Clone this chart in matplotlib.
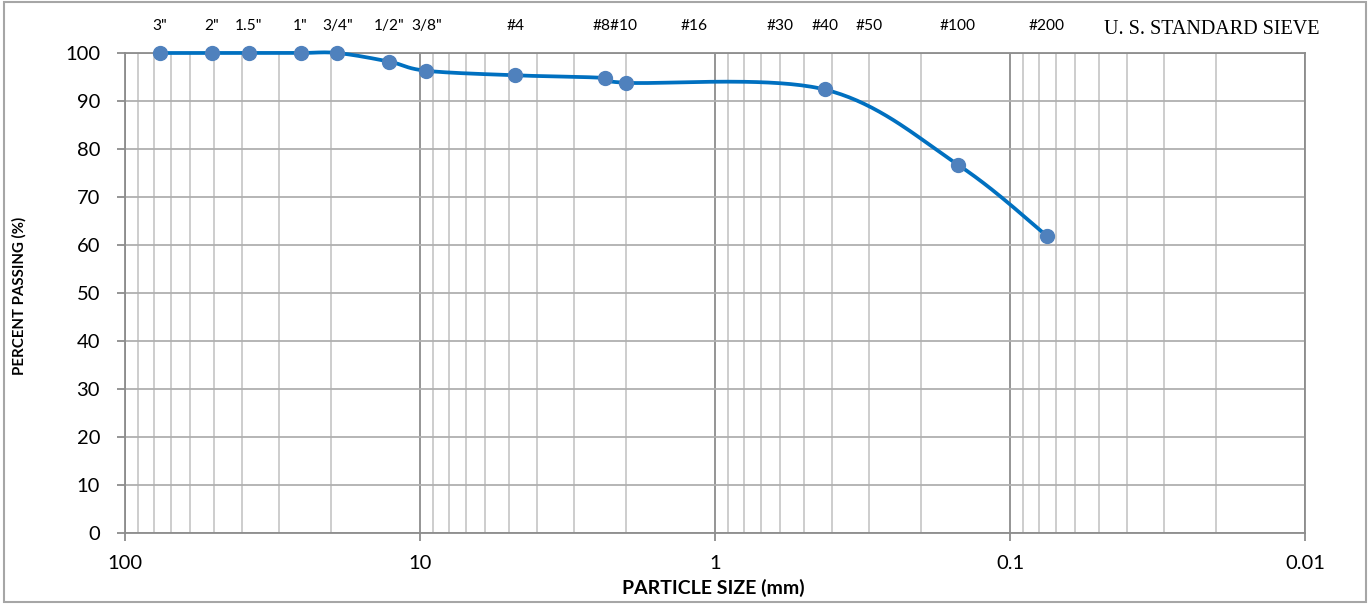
import numpy as np
import matplotlib.pyplot as plt
from matplotlib.ticker import LogLocator, NullFormatter, FixedLocator, FixedFormatter
from matplotlib.transforms import blended_transform_factory
from matplotlib.patches import Rectangle

# ---------------- data
SIEVE_LABELS = ['3"', '2"', '1.5"', '1"', '3/4"', '1/2"', '3/8"', '#4', '#8#10', '#16',
                '#30', '#40', '#50', '#100', '#200']
SIEVE_POS = [76.2, 50.8, 38.1, 25.4, 19.05, 12.7, 9.525, 4.75, 2.18, 1.18,
             0.6, 0.425, 0.3, 0.15, 0.075]

# sieves used in the test (mm) and percent passing
TEST_SIZES = [76.2, 50.8, 38.1, 25.4, 19.05, 12.7, 9.525, 4.75, 2.36, 2.0, 0.425, 0.15, 0.075]
PERCENT_PASSING = [100, 100, 100, 100, 100, 98.2, 96.3, 95.35, 94.8, 93.8, 92.4, 76.7, 61.9]

X_TICKS = [100, 10, 1, 0.1, 0.01]
X_TICK_LABELS = ["100", "10", "1", "0.1", "0.01"]

FONT = ["Lato", "DejaVu Sans"]
LINE_COLOR = "#0070C0"
MARKER_COLOR = "#4F81BD"


def excel_smooth(ax, xs, ys, n=40):
    """Courbe lissée façon Excel (Catmull-Rom -> Bezier) calculée en pixels."""
    pts = ax.transData.transform(np.column_stack([xs, ys]))
    P = np.vstack([pts[0], pts, pts[-1]])
    t = np.linspace(0, 1, n)[:, None]
    segs = []
    for i in range(1, len(P) - 2):
        p0, p1, p2, p3 = P[i - 1], P[i], P[i + 1], P[i + 2]
        c1 = p1 + (p2 - p0) / 6
        c2 = p2 - (p3 - p1) / 6
        segs.append((1 - t) ** 3 * p1 + 3 * (1 - t) ** 2 * t * c1
                    + 3 * (1 - t) * t ** 2 * c2 + t ** 3 * p2)
    curve = np.vstack(segs)
    return ax.transData.inverted().transform(curve)


def main():
    plt.rcParams["font.family"] = FONT
    fig = plt.figure(figsize=(13.7, 6.04), dpi=100)
    ax = fig.add_axes([125 / 1370, 1 - 533 / 604, 1180 / 1370, 480 / 604])

    ax.set_xscale("log")
    ax.set_xlim(100, 0.01)
    ax.set_ylim(0, 100)

    # grid
    ax.xaxis.set_major_locator(FixedLocator(X_TICKS))
    ax.xaxis.set_major_formatter(FixedFormatter(X_TICK_LABELS))
    ax.xaxis.set_minor_locator(LogLocator(base=10, subs=np.arange(2, 10)))
    ax.xaxis.set_minor_formatter(NullFormatter())
    ax.set_yticks(np.arange(0, 101, 10))
    ax.grid(True, which="major", axis="x", color="#8C8C8C", lw=1.3)
    ax.grid(True, which="minor", axis="x", color="#C0C0C0", lw=1.1)
    ax.grid(True, which="major", axis="y", color="#B0B0B0", lw=1.3)
    ax.set_axisbelow(True)

    for sp in ax.spines.values():
        sp.set_color("#8C8C8C")
        sp.set_linewidth(1.3)
    ax.tick_params(axis="both", which="major", direction="out", length=6,
                   color="#8C8C8C", width=1.3, labelsize=14.5, labelcolor="black")
    ax.tick_params(axis="x", which="major", pad=10)
    ax.tick_params(axis="y", which="major", pad=12)
    ax.tick_params(axis="x", which="minor", length=0)

    # courbe
    curve = excel_smooth(ax, TEST_SIZES, PERCENT_PASSING)
    ax.plot(curve[:, 0], curve[:, 1], color=LINE_COLOR, lw=2.7, clip_on=False, zorder=3)
    ax.plot(TEST_SIZES, PERCENT_PASSING, "o", color=MARKER_COLOR, ms=10,
            clip_on=False, zorder=4)

    # tamis en haut
    trans = blended_transform_factory(ax.transData, ax.transAxes)
    for lab, pos in zip(SIEVE_LABELS, SIEVE_POS):
        ax.text(pos, 1.056, lab, transform=trans, ha="center", va="center", fontsize=11.2)

    fig.text(1320 / 1370, 1 - 30 / 604, "U. S. STANDARD SIEVE", ha="right", va="center",
             fontsize=14.5, family=["Liberation Serif", "DejaVu Serif"])

    fig.text(19 / 1370, 1 - 296 / 604, "PERCENT PASSING (%)", rotation=90, ha="center",
             va="center", fontsize=10.8, fontweight="bold")
    fig.text(713 / 1370, 1 - 588 / 604, "PARTICLE SIZE (mm)", ha="center", va="center",
             fontsize=14, fontweight="bold")

    fig.patches.append(Rectangle((0.003, 0.003), 0.994, 0.994, transform=fig.transFigure,
                                 fill=False, edgecolor="#A6A6A6", lw=1.5))

    fig.savefig("out.png", dpi=100)
    plt.close(fig)


if __name__ == "__main__":
    main()
